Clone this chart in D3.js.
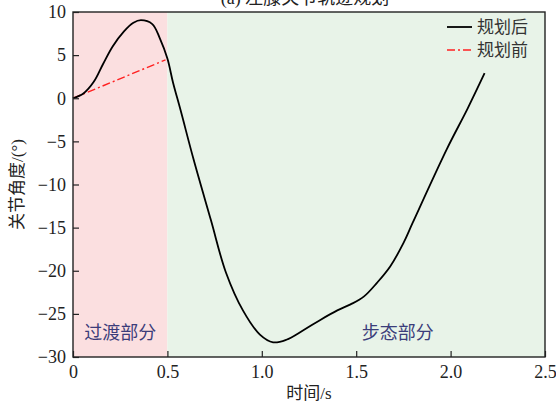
<!DOCTYPE html>
<meta charset="utf-8">
<style>
body { margin: 0; background: #fff; }
</style>
<body>
<script src="https://d3js.org/d3.v7.min.js"></script>
<script>

// data
var timeAfter  = [0, 0.055, 0.11, 0.16, 0.21, 0.27, 0.32, 0.36, 0.42, 0.46, 0.5, 0.53, 0.57, 0.64, 0.73, 0.81, 0.9, 0.99, 1.06, 1.13, 1.22, 1.31, 1.4, 1.47, 1.54, 1.61, 1.68, 1.75, 1.8, 1.98, 2.09, 2.18];
var angleAfter = [0, 0.55, 1.9, 4.0, 6.0, 7.75, 8.75, 9.05, 8.6, 6.95, 4.6, 1.8, -1.4, -7.2, -14.1, -20.2, -24.6, -27.4, -28.3, -28.0, -26.9, -25.7, -24.6, -23.9, -23.0, -21.4, -19.5, -16.8, -14.4, -5.9, -1.2, 2.9];
var timeBefore  = [0, 0.49];
var angleBefore = [0, 4.45];

var xTicks = [0, 0.5, 1.0, 1.5, 2.0, 2.5];
var xTickLabels = ["0", "0.5", "1.0", "1.5", "2.0", "2.5"];
var yTicks = [10, 5, 0, -5, -10, -15, -20, -25, -30];
var yTickLabels = ["10", "5", "0", "\u22125", "\u221210", "\u221215", "\u221220", "\u221225", "\u221230"];

var regions = [
  {name: "过渡部分", from: 0, to: 0.5},
  {name: "步态部分", from: 0.5, to: 2.5}
];
var seriesNames = ["规划后", "规划前"];

// set the dimensions and margins of the graph
var margin = {top: 12, right: 11, bottom: 49, left: 73},
    width = 556 - margin.left - margin.right,
    height = 406 - margin.top - margin.bottom;

var serif = "'Liberation Serif', 'Noto Sans CJK SC'";
var cjk = "'Noto Sans CJK SC'";

var x = d3.scaleLinear().domain([0, 2.5]).range([0, width]);
var y = d3.scaleLinear().domain([-30, 10]).range([height, 0]);

var svg = d3.select("body").append("svg")
    .attr("width", 556)
    .attr("height", 406)
  .append("g")
    .attr("transform", "translate(" + margin.left + "," + margin.top + ")");

// shaded regions
var regionFill = ["#fbdfe0", "#e8f3e8"];
svg.selectAll("rect.region")
    .data(regions)
  .enter().append("rect")
    .attr("class", "region")
    .attr("x", function(d) { return x(d.from); })
    .attr("y", 0)
    .attr("width", function(d) { return x(d.to) - x(d.from); })
    .attr("height", height)
    .style("fill", function(d, i) { return regionFill[i]; });

// region labels
var regionLabelX = [0.25, 1.72];
svg.selectAll("text.region")
    .data(regions)
  .enter().append("text")
    .attr("x", function(d, i) { return x(regionLabelX[i]); })
    .attr("y", y(-27.2))
    .attr("dy", ".35em")
    .attr("text-anchor", "middle")
    .style("font-family", cjk)
    .style("font-size", "18px")
    .style("fill", "#3b3d7a")
    .text(function(d) { return d.name; });

// lines
var line = d3.line()
    .curve(d3.curveCatmullRom.alpha(0.5))
    .x(function(d) { return x(d[0]); })
    .y(function(d) { return y(d[1]); });

svg.append("path")
    .datum(d3.zip(timeBefore, angleBefore))
    .attr("d", line)
    .style("fill", "none")
    .style("stroke", "#ff2020")
    .style("stroke-width", 1.4)
    .style("stroke-dasharray", "8,3,2,3");

svg.append("path")
    .datum(d3.zip(timeAfter, angleAfter))
    .attr("d", line)
    .style("fill", "none")
    .style("stroke", "#000")
    .style("stroke-width", 1.8);

// axes, ticks pointing inward
var xAxis = svg.append("g")
    .attr("transform", "translate(0," + height + ")")
    .call(d3.axisBottom(x)
      .tickValues(xTicks)
      .tickSize(-6)
      .tickPadding(8)
      .tickFormat(function(d, i) { return xTickLabels[i]; }));

var yAxis = svg.append("g")
    .call(d3.axisLeft(y)
      .tickValues(yTicks)
      .tickSize(-6)
      .tickPadding(7)
      .tickFormat(function(d, i) { return yTickLabels[i]; }));

[xAxis, yAxis].forEach(function(a) {
  a.attr("font-family", serif).attr("font-size", 18);
  a.select(".domain").remove();
  a.selectAll(".tick line").style("stroke", "#222").style("stroke-width", 1.2);
  a.selectAll("text").attr("fill", "#222");
});

// frame
svg.append("rect")
    .attr("width", width)
    .attr("height", height)
    .style("fill", "none")
    .style("stroke", "#222")
    .style("stroke-width", 1.4);

// legend
var legend = svg.append("g").attr("transform", "translate(" + (width - 98) + ",15)");
seriesNames.forEach(function(name, i) {
  var g = legend.append("g").attr("transform", "translate(0," + (i * 23) + ")");
  g.append("line")
    .attr("x1", 0).attr("x2", 25)
    .style("stroke", i === 0 ? "#000" : "#ff2020")
    .style("stroke-width", i === 0 ? 1.8 : 1.4)
    .style("stroke-dasharray", i === 0 ? null : "8,3,2,3");
  g.append("text")
    .attr("x", 30)
    .attr("dy", ".35em")
    .style("font-family", cjk)
    .style("font-size", "17px")
    .style("fill", "#333")
    .text(name);
});

// axis labels
svg.append("text")
    .attr("x", width / 2)
    .attr("y", height + 42)
    .attr("text-anchor", "middle")
    .style("font-family", serif)
    .style("font-size", "17px")
    .style("fill", "#222")
    .text("时间/s");

svg.append("text")
    .attr("transform", "translate(" + (-56) + "," + (height / 2) + ") rotate(-90)")
    .attr("text-anchor", "middle")
    .attr("dy", ".35em")
    .style("font-family", serif)
    .style("font-size", "17px")
    .style("fill", "#222")
    .text("关节角度/(°)");

// title, cut off at the top as in the original
svg.append("text")
    .attr("x", 232)
    .attr("y", -8)
    .attr("text-anchor", "middle")
    .style("font-family", serif)
    .style("font-size", "18px")
    .style("fill", "#222")
    .text("(a) 左膝关节轨迹规划");

</script>
</body>
